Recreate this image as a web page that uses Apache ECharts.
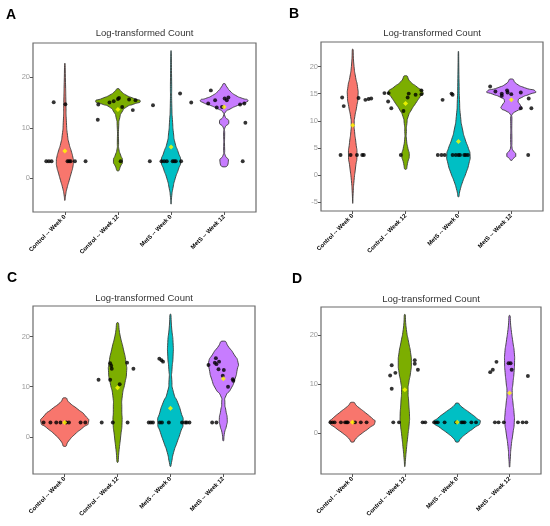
<!DOCTYPE html>
<html>
<head>
<meta charset="utf-8">
<title>Log-transformed Count</title>
<script src="https://cdn.jsdelivr.net/npm/echarts@6/dist/echarts.min.js"></script>
<style>
html, body { margin: 0; padding: 0; background: #fff; }
#main { width: 550px; height: 526px; }
</style>
</head>
<body>
<div id="main"></div>
<script>
var categories = ['Control -- Week 0', 'Control -- Week 12', 'MetS -- Week 0', 'MetS -- Week 12'];
var groupColors = ['#F8766D', '#7CAE00', '#00BFC4', '#C77CFF'];
var panelLetters = ['A', 'B', 'C', 'D'];
var panelTitle = 'Log-transformed Count';
var yRanges = [[-6.7, 26.8], [-6.6, 24.5], [-7.4, 26.1], [-8.3, 25.8]];
var yTicks = [[0, 10, 20], [-5, 0, 5, 10, 15, 20], [0, 10, 20], [0, 10, 20]];

// violin outlines, top to bottom: [value, half width]
var violinA = [
    [[22.8,0],[19,0.012],[15,0.02],[11,0.03],[8.5,0.05],[6.8,0.08],[5.4,0.12],[4.2,0.15],[3.3,0.16],[2.2,0.15],[1.0,0.12],[-0.5,0.08],[-2,0.04],[-3.3,0.015],[-4.4,0]],
    [[17.75,0],[17.2,0.06],[16.5,0.15],[15.8,0.3],[15.25,0.42],[14.7,0.3],[14.1,0.16],[13.1,0.075],[12,0.035],[10.5,0.015],[7,0.012],[5.6,0.02],[4.6,0.05],[3.4,0.085],[2.4,0.05],[1.45,0]],
    [[25.3,0],[20,0.01],[14,0.015],[11,0.03],[9,0.045],[7,0.075],[5,0.14],[3.4,0.18],[1.8,0.14],[0,0.08],[-2,0.035],[-3.8,0.01],[-5.15,0]],
    [[18.75,0],[18.1,0.05],[17.3,0.11],[16.4,0.22],[15.8,0.35],[15.45,0.447],[15.0,0.40],[14.4,0.25],[13.7,0.11],[13.1,0.025],[12.3,0.015],[11.15,0.088],[10.0,0.015],[9,0.01],[5.5,0.01],[4.55,0.02],[3.37,0.08],[2.24,0]]
];
var violinB = [
    [[23.2,0],[20,0.025],[18,0.055],[16.3,0.09],[14.5,0.1],[12.6,0.075],[10.8,0.04],[9.5,0.028],[8,0.035],[6,0.06],[3.7,0.08],[1.5,0.055],[-1,0.025],[-3.4,0.008],[-5.2,0]],
    [[18.3,0],[17.2,0.09],[16.2,0.22],[15.2,0.33],[14.5,0.28],[13.2,0.19],[12,0.11],[10.8,0.05],[9.5,0.025],[8,0.015],[6.5,0.018],[4.9,0.045],[3.7,0.07],[2.5,0.045],[1.05,0]],
    [[22.8,0],[17,0.012],[13.9,0.02],[10.8,0.04],[8.3,0.08],[6.5,0.13],[4.9,0.19],[3.7,0.22],[2.2,0.2],[0.3,0.14],[-1.2,0.08],[-2.8,0.03],[-4.0,0]],
    [[17.7,0],[16.8,0.1],[16.1,0.25],[15.4,0.46],[14.9,0.35],[14.3,0.2],[13.7,0.13],[12.9,0.17],[12.3,0.19],[11.8,0.1],[11.2,0.02],[10.5,0.012],[6,0.012],[5,0.015],[4.6,0.03],[3.7,0.085],[3.0,0.03],[2.7,0]]
];
var violinC = [
    [[7.8,0],[6.8,0.09],[5.5,0.25],[4.2,0.39],[2.9,0.45],[1.9,0.35],[0.5,0.19],[-0.8,0.075],[-1.9,0]],
    [[22.8,0],[20.1,0.05],[17.5,0.11],[14.8,0.16],[12.8,0.17],[10.8,0.14],[8.2,0.09],[5.5,0.08],[2.9,0.085],[0.2,0.06],[-2.5,0.03],[-5.1,0]],
    [[24.5,0],[21.5,0.025],[18.8,0.05],[16.1,0.05],[13.5,0.03],[11.5,0.025],[8.8,0.06],[6.8,0.14],[4.9,0.2],[2.86,0.24],[0.9,0.19],[-1.1,0.125],[-3.1,0.06],[-5.1,0.02],[-5.9,0]],
    [[19.1,0],[17.8,0.11],[16.5,0.2],[14.8,0.28],[13.5,0.265],[11.5,0.22],[9.5,0.14],[8.2,0.05],[6.8,0.03],[5.2,0.05],[3.5,0.075],[2.2,0.06],[0.9,0.025],[-0.8,0]]
];
var violinD = [
    [[6.35,0],[5.5,0.095],[4.2,0.25],[3.1,0.37],[2.25,0.43],[1.1,0.32],[0.07,0.19],[-0.96,0.075],[-1.8,0]],
    [[24.3,0],[21.2,0.03],[18.5,0.075],[16.5,0.11],[14.4,0.125],[12.4,0.11],[10.3,0.075],[8.9,0.063],[6.2,0.075],[3.5,0.09],[2.1,0.085],[-0.6,0.057],[-3.3,0.03],[-5.4,0.012],[-6.8,0]],
    [[6.2,0],[5.5,0.075],[4.2,0.24],[3.1,0.37],[2.25,0.44],[1.1,0.32],[0.07,0.19],[-0.96,0.075],[-1.8,0]],
    [[24.1,0],[21.2,0.03],[18.5,0.065],[16.5,0.09],[14.4,0.095],[12.4,0.085],[10.3,0.065],[8.3,0.05],[6.2,0.065],[4.2,0.085],[2.25,0.09],[0.07,0.065],[-2.7,0.03],[-5.4,0.012],[-6.9,0]]
];

// jittered points: [group, jitter, value]
var pointsA = [
    [1,-0.21,15.05],[1,0.01,14.65],
    [1,-0.35,3.37],[1,-0.30,3.37],[1,-0.25,3.37],[1,0.05,3.37],[1,0.08,3.37],[1,0.11,3.37],[1,0.19,3.37],[1,0.39,3.37],
    [2,-0.37,14.6],[2,-0.38,11.6],[2,-0.16,15.0],[2,-0.08,15.25],[2,0,15.7],[2,0.02,15.9],[2,0.08,14.1],[2,0.21,15.6],[2,0.28,13.5],[2,0.33,15.45],[2,0.05,3.37],
    [3,-0.34,14.45],[3,0.17,16.8],[3,0.38,15.0],
    [3,-0.40,3.37],[3,-0.18,3.37],[3,-0.13,3.37],[3,-0.08,3.37],[3,0.03,3.37],[3,0.06,3.37],[3,0.09,3.37],[3,0.19,3.37],
    [4,-0.25,17.4],[4,-0.30,14.8],[4,-0.17,15.45],[4,-0.14,14.0],[4,0.01,15.8],[4,0.05,15.45],[4,0.08,16.0],[4,-0.04,14.1],[4,0.30,14.6],[4,0.38,14.8],[4,0.40,11.0],[4,0.35,3.37]
];
var pointsB = [
    [1,-0.20,14.3],[1,-0.17,12.7],[1,0.11,14.2],[1,0.24,13.85],[1,0.30,14.0],[1,0.35,14.1],
    [1,-0.23,3.7],[1,-0.04,3.7],[1,0.08,3.7],[1,0.18,3.7],[1,0.21,3.7],
    [2,-0.40,15.1],[2,-0.32,15.1],[2,-0.33,13.55],[2,-0.27,12.3],[2,-0.04,11.8],[2,0.04,14.3],[2,0.06,15.0],[2,0.19,14.8],[2,0.30,15.6],[2,0.30,14.9],[2,-0.09,3.7],
    [3,-0.30,13.85],[3,-0.13,15.0],[3,-0.11,14.8],
    [3,-0.39,3.7],[3,-0.32,3.7],[3,-0.26,3.7],[3,-0.11,3.7],[3,-0.05,3.7],[3,0.0,3.7],[3,0.03,3.7],[3,0.11,3.7],[3,0.14,3.7],[3,0.18,3.7],
    [4,-0.40,16.3],[4,-0.30,15.4],[4,-0.18,15.0],[4,-0.18,14.6],[4,-0.08,15.6],[4,-0.07,15.2],[4,0.0,14.9],[4,0.18,15.2],[4,0.18,12.3],[4,0.33,14.1],[4,0.38,12.3],[4,0.32,3.7]
];
var pointsC = [
    [1,-0.40,2.86],[1,-0.27,2.86],[1,-0.16,2.86],[1,-0.08,2.86],[1,0.03,2.86],[1,0.08,2.86],[1,0.30,2.86],[1,0.39,2.86],
    [2,-0.36,11.4],[2,-0.14,14.7],[2,-0.12,14.2],[2,-0.11,13.6],[2,-0.14,11.4],[2,0.04,10.5],[2,0.18,14.8],[2,0.30,13.6],[2,-0.30,2.86],[2,-0.09,2.86],[2,0.19,2.86],
    [3,-0.21,15.6],[3,-0.17,15.3],[3,-0.14,15.0],
    [3,-0.41,2.86],[3,-0.37,2.86],[3,-0.33,2.86],[3,-0.20,2.86],[3,-0.16,2.86],[3,-0.03,2.86],[3,0.22,2.86],[3,0.28,2.86],[3,0.31,2.86],[3,0.36,2.86],
    [4,-0.28,14.35],[4,-0.14,15.7],[4,-0.16,14.8],[4,-0.13,14.5],[4,-0.09,13.5],[4,-0.08,15.0],[4,0.01,13.35],[4,-0.01,12.2],[4,0.18,11.5],[4,0.19,11.2],[4,0.09,10.0],[4,-0.21,2.86],[4,-0.13,2.86]
];
var pointsD = [
    [1,-0.42,2.25],[1,-0.38,2.25],[1,-0.34,2.25],[1,-0.22,2.25],[1,-0.14,2.25],[1,-0.11,2.25],[1,-0.09,2.25],[1,0.05,2.25],[1,0.16,2.25],[1,0.27,2.25],
    [2,-0.28,11.8],[2,-0.25,13.9],[2,-0.25,9.1],[2,-0.18,12.35],[2,0.19,14.95],[2,0.19,14.2],[2,0.25,13.0],[2,-0.22,2.25],[2,-0.11,2.25],[2,0.34,2.25],[2,0.39,2.25],
    [3,-0.44,2.25],[3,-0.40,2.25],[3,-0.37,2.25],[3,-0.24,2.25],[3,-0.02,2.25],[3,0.08,2.25],[3,0.11,2.25],[3,0.14,2.25],[3,0.27,2.25],[3,0.36,2.25],
    [4,-0.37,12.5],[4,-0.32,13.0],[4,-0.25,14.6],[4,-0.02,14.3],[4,0.02,14.3],[4,0.04,13.0],[4,0.35,11.7],[4,-0.28,2.25],[4,-0.21,2.25],[4,-0.11,2.25],[4,0.16,2.25],[4,0.25,2.25],[4,0.32,2.25]
];

// group means (yellow)
var meansA = [5.41, 13.6, 6.2, 14.1];
var meansB = [9.2, 13.2, 6.2, 13.85];
var meansC = [2.86, 9.8, 5.7, 11.6];
var meansD = [2.25, 8.9, 2.25, 8.26];

var violins = [violinA, violinB, violinC, violinD];
var points = [pointsA, pointsB, pointsC, pointsD];
var means = [meansA, meansB, meansC, meansD];

var grids = [
    {left: 33, top: 43, width: 223, height: 169},
    {left: 321, top: 42, width: 222, height: 169},
    {left: 33, top: 306, width: 222, height: 168},
    {left: 321, top: 307, width: 220, height: 167}
];
var titlePos = [[144.5, 33], [432, 33], [144, 298], [431, 299]];
var letterPos = [[6, 15], [289, 14], [7, 278], [292, 279]];

function violinRenderer(profiles) {
    return function (params, api) {
        var prof = profiles[params.dataIndex];
        var c = api.value(0);
        var pts = [];
        var i;
        for (i = 0; i < prof.length; i++) {
            pts.push(api.coord([c + prof[i][1], prof[i][0]]));
        }
        for (i = prof.length - 2; i >= 1; i--) {
            pts.push(api.coord([c - prof[i][1], prof[i][0]]));
        }
        return {
            type: 'polygon',
            shape: {points: pts, smooth: 0.75},
            style: {fill: groupColors[params.dataIndex], stroke: '#3a3a3a', lineWidth: 0.9}
        };
    };
}

var option = {
    animation: false,
    backgroundColor: '#fff',
    textStyle: {fontFamily: 'Liberation Sans'},
    grid: [], xAxis: [], yAxis: [], series: [], graphic: []
};

for (var k = 0; k < 4; k++) {
    var g = grids[k];
    option.grid.push({left: g.left, top: g.top, width: g.width, height: g.height,
        show: true, borderColor: '#6b6b6b', borderWidth: 1.2, backgroundColor: 'transparent'});
    option.xAxis.push({
        type: 'value', gridIndex: k, min: 0.4, max: 4.6, position: 'bottom',
        axisLine: {show: false, onZero: false}, splitLine: {show: false},
        axisTick: {show: true, customValues: [1, 2, 3, 4], length: 3, lineStyle: {color: '#555'}},
        axisLabel: {customValues: [1, 2, 3, 4], rotate: 45, margin: 4, fontSize: 6, fontWeight: 'bold',
            color: '#000', fontFamily: 'Liberation Sans',
            formatter: function (v) { return categories[Math.round(v) - 1]; }}
    });
    option.yAxis.push({
        type: 'value', gridIndex: k, min: yRanges[k][0], max: yRanges[k][1], position: 'left',
        axisLine: {show: false, onZero: false}, splitLine: {show: false},
        axisTick: {show: true, customValues: yTicks[k], length: 3, lineStyle: {color: '#555'}},
        axisLabel: {customValues: yTicks[k], margin: 3, fontSize: 7.5, color: '#999', fontFamily: 'Liberation Sans'}
    });

    var vData = [];
    for (var v = 0; v < 4; v++) {
        var prof = violins[k][v];
        vData.push([v + 1, prof[prof.length - 1][0], prof[0][0]]);
    }
    option.series.push({
        type: 'custom', xAxisIndex: k, yAxisIndex: k, z: 2, silent: true,
        renderItem: violinRenderer(violins[k]),
        encode: {x: 0, y: [1, 2]},
        data: vData
    });

    var pData = points[k].map(function (p) { return [p[0] + p[1], p[2]]; });
    option.series.push({
        type: 'scatter', xAxisIndex: k, yAxisIndex: k, z: 3, silent: true,
        symbolSize: 3.9, itemStyle: {color: '#000'},
        data: pData
    });

    var mData = means[k].map(function (m, i) { return [i + 1, m]; });
    option.series.push({
        type: 'scatter', xAxisIndex: k, yAxisIndex: k, z: 4, silent: true,
        symbol: 'diamond', symbolSize: 5, itemStyle: {color: '#FFFF00'},
        data: mData
    });

    option.graphic.push({
        type: 'text', x: titlePos[k][0], y: titlePos[k][1], silent: true,
        style: {text: panelTitle, textAlign: 'center', textVerticalAlign: 'middle',
            font: '9.5px "Liberation Sans"', fill: '#333'}
    });
    option.graphic.push({
        type: 'text', x: letterPos[k][0], y: letterPos[k][1], silent: true,
        style: {text: panelLetters[k], textAlign: 'left', textVerticalAlign: 'middle',
            font: 'bold 14px "Liberation Sans"', fill: '#000'}
    });
}

var chart = echarts.init(document.getElementById('main'));
chart.setOption(option);
</script>
</body>
</html>
